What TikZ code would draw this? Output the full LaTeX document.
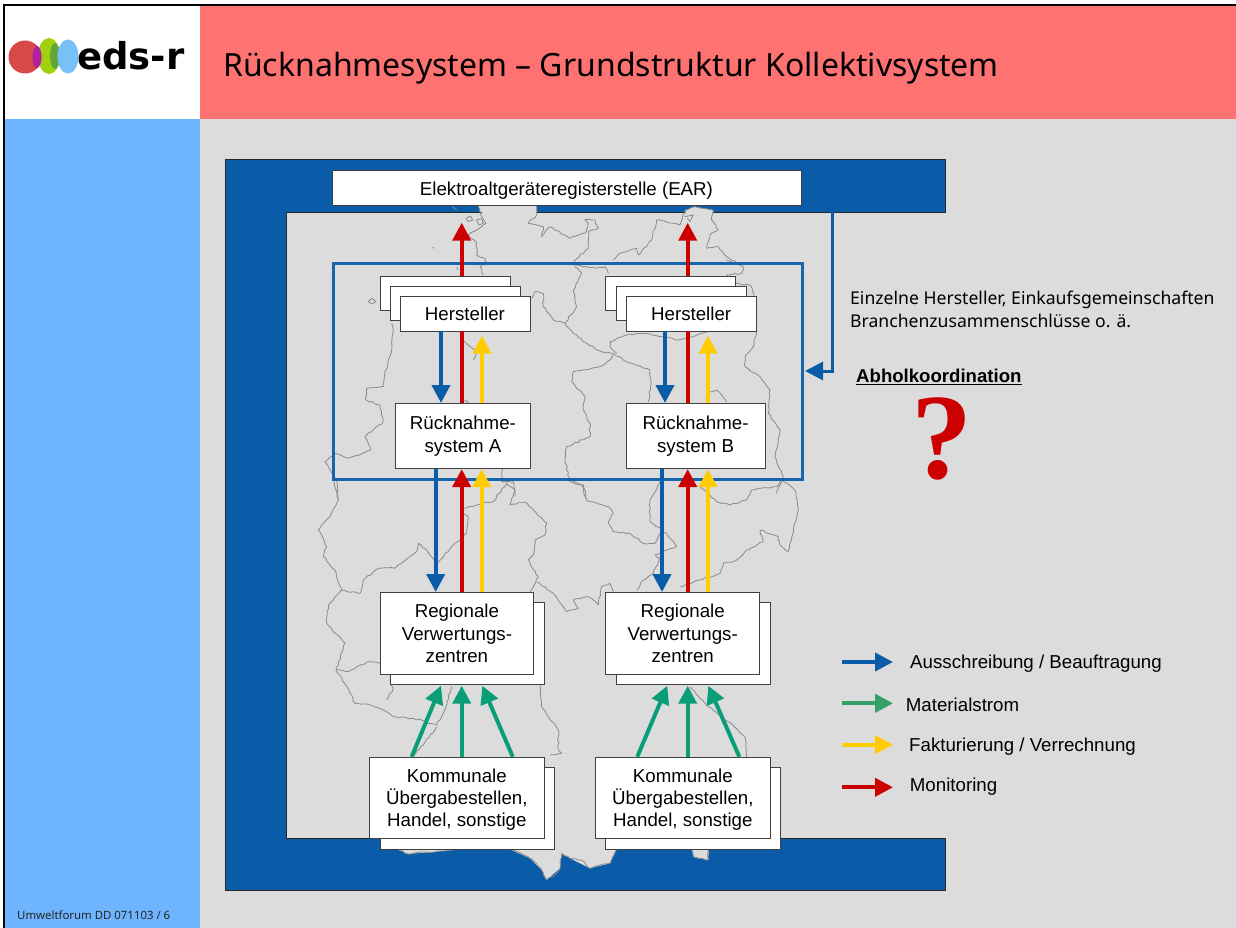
\documentclass[tikz,border=0pt]{standalone}
\usepackage{fontspec}
\setmainfont{Liberation Sans}
\newfontfamily\tahomaish{Noto Sans}
\newfontfamily\logofont{DejaVu Sans}
\newfontfamily\qfont{Liberation Serif}
\usetikzlibrary{arrows.meta,decorations.pathmorphing}
\definecolor{edsblue}{HTML}{0A5CA8}
\definecolor{pagegray}{HTML}{DCDCDC}
\definecolor{titlered}{HTML}{FF7272}
\definecolor{sideblue}{HTML}{6FB4FF}
\definecolor{arrred}{HTML}{CC0000}
\definecolor{arryellow}{HTML}{FFCC00}
\definecolor{arrgreen}{HTML}{0A9E78}
\definecolor{leggreen}{HTML}{35A068}
\definecolor{maplinec}{HTML}{8A8A8A}
\definecolor{logored}{HTML}{D84848}
\definecolor{logopurple}{HTML}{B020A0}
\definecolor{logolime}{HTML}{A0D010}
\definecolor{logogreen}{HTML}{5FA838}
\definecolor{logoblue}{HTML}{78C0F8}
\tikzset{
  boxnode/.style={draw=black!75,fill=white,line width=0.9pt,inner sep=0pt,align=center,anchor=north west,
    font=\fontsize{18.7}{22.3}\selectfont},
  flow/.style={line width=4pt,-{Triangle[length=18pt,width=18pt]}},
  plainflow/.style={line width=4pt},
  legflow/.style={line width=4pt,-{Triangle[length=18pt,width=18pt]}},
  legtext/.style={anchor=west,inner sep=0pt,font=\fontsize{18.7}{22}\selectfont},
  mapdot/.style={draw=maplinec,line width=0.8pt,line join=round},
  mapline/.style={mapdot,decorate,decoration={random steps,segment length=3.2pt,amplitude=0.8pt}},
  zt/.style={shift={(280,160)},x=0.3333pt,y=-0.3333pt},
  zb/.style={shift={(280,480)},x=0.3333pt,y=-0.3333pt},
}
\begin{document}
\begin{tikzpicture}[x=1pt,y=-1pt]
\useasboundingbox (0,0) rectangle (1236,928);
% page areas
\fill[white] (0,0) rectangle (1236,928);
\fill[pagegray] (200,119) rectangle (1236,928);
\fill[titlered] (200,5) rectangle (1236,119);
\fill[sideblue] (4,119) rectangle (200,928);
\draw[black,line width=2.2pt] (4,928) -- (4,5) -- (1236,5);
% blue frame
\path[fill=edsblue,draw=black!85,line width=1pt] (945,838) -- (286,838) -- (286,212) -- (945,212) -- (945,160) -- (225,160) -- (225,890) -- (945,890) -- cycle;
% map: parts overlapping the blue frame
\begin{scope}[zt]
\fill[pagegray] (595,137) -- (600,155) -- (618,162) -- (770,162) -- (770,137) -- cycle;
\fill[pagegray] (1215,164) -- (1218,150) -- (1245,140) -- (1300,150) -- (1298,164) -- cycle;
\end{scope}
\begin{scope}[zb]
\fill[pagegray] (345,1068) -- (350,1108) -- (385,1122) -- (470,1115) -- (530,1108) -- (690,1108) -- (750,1135) -- (785,1170) -- (800,1200) -- (840,1165) -- (845,1120) -- (870,1135) -- (930,1165) -- (990,1150) -- (1010,1108) -- (1235,1108) -- (1240,1130) -- (1285,1140) -- (1288,1068) -- cycle;
\draw[mapline] (350,1108) -- (385,1122) -- (410,1118) -- (470,1115) -- (530,1108);
\draw[mapline] (690,1108) -- (720,1118) -- (750,1135) -- (770,1150) -- (785,1170) -- (800,1200) -- (825,1185) -- (840,1165) -- (845,1120) -- (870,1135) -- (905,1140) -- (930,1165) -- (960,1155) -- (990,1150) -- (1010,1108);
\draw[mapline] (1235,1108) -- (1240,1130) -- (1285,1140) -- (1285,1108);
\draw[mapline] (168,570) -- (205,575) -- (235,558) -- (270,545) -- (300,550);
\draw[mapline] (320,660) -- (340,625) -- (330,600);
\draw[mapline] (160,0) -- (175,60) -- (150,110) -- (115,150) -- (140,200) -- (130,230) -- (165,270) -- (185,330) -- (145,375) -- (140,430) -- (195,490) -- (168,570) -- (200,620) -- (225,670) -- (270,675) -- (310,690) -- (340,710) -- (400,715) -- (470,735) -- (490,700) -- (515,620);
\draw[mapline] (400,828) -- (430,795) -- (470,740);
\draw[mapline] (185,330) -- (240,340) -- (250,300) -- (295,265) -- (345,265) -- (410,215) -- (415,190) -- (435,205) -- (470,250) -- (525,190) -- (560,160) -- (565,110) -- (545,100) -- (550,85) -- (610,70) -- (640,65) -- (680,10) -- (705,30) -- (690,75) -- (735,65) -- (800,130) -- (795,165) -- (765,180) -- (760,225) -- (745,240) -- (775,290) -- (750,335);
\draw[mapline] (770,305) -- (820,340) -- (860,395) -- (895,385) -- (880,360) -- (925,350) -- (955,375) -- (965,320) -- (990,310) -- (1000,335);
\draw[mapline] (1070,330) -- (1090,300) -- (1120,280) -- (1140,235) -- (1125,225) -- (1160,210) -- (1190,200) -- (1160,160) -- (1110,125) -- (1110,60) -- (1145,0);
\draw[mapline] (780,615) -- (785,680) -- (835,750) -- (835,810) -- (845,820) -- (810,825);
\draw[mapline] (1230,620) -- (1285,680) -- (1345,725) -- (1395,770) -- (1400,830);
\draw[mapline] (1260,20) -- (1310,65) -- (1350,75) -- (1400,60) -- (1415,30) -- (1490,20) -- (1505,0) -- (1545,30) -- (1555,90) -- (1525,215) -- (1500,195) -- (1495,170) -- (1440,150) -- (1450,185) -- (1400,210) -- (1370,240) -- (1330,250) -- (1320,280) -- (1260,300) -- (1200,320);
\draw[mapline] (870,0) -- (910,15) -- (920,60) -- (985,80) -- (1000,100) -- (985,125) -- (1000,155) -- (1050,160) -- (1090,190) -- (1125,190) -- (1145,155);
\end{scope}
\begin{scope}[zt]
\draw[mapline] (595,140) -- (600,155) -- (618,190) -- (605,200) -- (580,215) -- (565,225) -- (590,250) -- (590,285) -- (615,295) -- (620,310) -- (600,320) -- (610,345);
\draw[mapline] (770,140) -- (770,165) -- (745,190) -- (790,200) -- (785,230) -- (810,200) -- (870,235) -- (915,220) -- (925,190) -- (915,178) -- (945,180) -- (955,205) -- (925,215) -- (925,265) -- (885,300) -- (880,315) -- (950,325) -- (975,320) -- (985,340);
\draw[mapline] (335,490) -- (340,510) -- (335,570) -- (315,640) -- (310,680) -- (260,685) -- (258,720) -- (300,735) -- (310,785) -- (255,830) -- (272,870) -- (205,895) -- (165,880) -- (135,905) -- (170,960) -- (175,1020);
\draw[mapline] (885,320) -- (905,340) -- (880,390) -- (890,440) -- (855,490);
\draw[mapline] (755,415) -- (765,395) -- (790,400) -- (790,440) -- (820,480) -- (855,490) -- (880,520) -- (920,550) -- (965,575) -- (1000,580) -- (1030,600) -- (1110,630) -- (1112,680) -- (1105,725);
\draw[mapline] (1000,580) -- (990,600) -- (960,620) -- (880,635) -- (875,665) -- (915,710) -- (910,750) -- (930,790) -- (930,830) -- (860,860) -- (855,900) -- (870,965) -- (905,975) -- (920,1020);
\draw[mapline] (1000,300) -- (1020,280) -- (1070,265) -- (1075,285) -- (1115,240) -- (1130,180) -- (1200,195) -- (1215,150) -- (1245,140) -- (1300,150) -- (1295,180) -- (1315,210) -- (1290,225) -- (1280,265) -- (1315,260) -- (1340,290) -- (1390,320) -- (1385,340) -- (1340,345) -- (1370,370) -- (1410,375) -- (1430,420);
\draw[mapline] (1010,580) -- (990,560) -- (990,545) -- (1040,525) -- (1100,520) -- (1190,540) -- (1240,530) -- (1285,515);
\draw[mapline] (1430,515) -- (1420,560) -- (1395,590) -- (1395,620) -- (1440,650) -- (1470,690) -- (1465,760) -- (1500,810) -- (1485,890) -- (1510,950) -- (1490,1000);
\draw[mapline] (540,530) -- (570,560) -- (590,575) -- (580,600);
\draw[mapline] (1280,730) -- (1280,700) -- (1310,690) -- (1340,725);
\draw[mapdot] (545,725) -- (560,722) -- (565,730);
\draw[mapline] (668,925) -- (665,965) -- (700,965) -- (705,1010);
\draw[mapdot] (265,425) -- (275,415) -- (288,425) -- (275,432) -- cycle;
\draw[mapdot] (558,175) -- (572,168) -- (578,180) -- (565,185) -- cycle;
\draw[mapdot] (590,180) -- (605,176) -- (610,190) -- (597,195) -- cycle;
\draw[mapdot] (518,140) -- (530,150);
\draw[mapdot] (458,262) -- (463,265);
\draw[mapdot] (530,322) -- (534,330);
\draw[mapdot] (1215,170) -- (1240,165) -- (1230,185) -- (1222,175);
\draw[mapdot] (1340,300) -- (1365,310);
\end{scope}
% EAR box and collecting rectangle
\node[boxnode,minimum width=469pt,minimum height=34pt] (ear) at (331.5,170.5) {\rule{0pt}{19pt}Elektroaltgeräteregisterstelle (EAR)};
\node[draw=edsblue!95!white,line width=3pt,inner sep=0pt,anchor=north west,minimum width=469.2pt,minimum height=216pt] (sysframe) at (331.5,261.8) {};
% upper arrows behind boxes
\coordinate (earA) at (461.7,222.7);
\coordinate (earB) at (687.7,222.7);
\coordinate (frameTap) at (832,212);
\coordinate (frameBend) at (832,371);
\coordinate (frameTip) at (805,371);
\draw[edsblue,line width=3pt,-{Triangle[length=18pt,width=18pt]}] (frameTap) -- (frameBend) -- (frameTip);
% Hersteller stacks
\node[boxnode,minimum width=130pt,minimum height=34pt] (hA1) at (379.5,275.5) {};
\node[boxnode,minimum width=130pt,minimum height=34pt] (hA2) at (389.5,285.5) {};
\node[boxnode,minimum width=130pt,minimum height=35pt] (hA3) at (399.5,295.5) {Hersteller};
\node[boxnode,minimum width=130pt,minimum height=34pt] (hB1) at (605.3,275.5) {};
\node[boxnode,minimum width=130pt,minimum height=34pt] (hB2) at (615.5,285.5) {};
\node[boxnode,minimum width=130pt,minimum height=35pt] (hB3) at (625.7,295.5) {Hersteller};
% Ruecknahme
\node[boxnode,minimum width=135pt,minimum height=65.2pt] (rA) at (395,403) {Rücknahme-\\system A};
\node[boxnode,minimum width=138.8pt,minimum height=65.2pt] (rB) at (625.7,403) {Rücknahme-\\system B};
% Regionale
\node[boxnode,minimum width=153.5pt,minimum height=81.5pt] (vAb) at (390,602.3) {};
\node[boxnode,minimum width=153.5pt,minimum height=81.8pt] (vA) at (379.7,592) {Regionale\\Verwertungs-\\zentren};
\node[boxnode,minimum width=153.8pt,minimum height=81.5pt] (vBb) at (615.7,602.3) {};
\node[boxnode,minimum width=153.9pt,minimum height=81.8pt] (vB) at (605.3,592) {Regionale\\Verwertungs-\\zentren};
% Kommunale
\node[boxnode,minimum width=174.1pt,minimum height=81.8pt] (kAb) at (379.7,766.7) {};
\node[boxnode,minimum width=174.2pt,minimum height=81.5pt] (kA) at (369.3,756.7) {\rule{0pt}{17pt}Kommunale\\Übergabestellen,\\Handel, sonstige};
\node[boxnode,minimum width=174.5pt,minimum height=81.8pt] (kBb) at (605.3,766.7) {};
\node[boxnode,minimum width=174.2pt,minimum height=81.5pt] (kB) at (595.3,756.7) {\rule{0pt}{17pt}Kommunale\\Übergabestellen,\\Handel, sonstige};
% arrows A
\draw[flow,arrred] (hA1.north -| earA) -- (earA);
\draw[flow,edsblue] (hA3.south -| 441,0) -- (rA.north -| 441,0);
\draw[plainflow,arrred] (rA.north -| earA) -- (hA3.south -| earA);
\draw[flow,arryellow] (rA.north -| 482,0) -- (482,335.7);
\draw[flow,edsblue] (rA.south -| 435.7,0) -- (vA.north -| 435.7,0);
\draw[flow,arrred] (vA.north -| earA) -- (rA.south -| earA);
\draw[flow,arryellow] (vA.north -| 481.7,0) -- (rA.south -| 481.7,0);
% arrows B
\draw[flow,arrred] (hB1.north -| earB) -- (earB);
\draw[flow,edsblue] (hB3.south -| 665,0) -- (rB.north -| 665,0);
\draw[plainflow,arrred] (rB.north -| earB) -- (hB3.south -| earB);
\draw[flow,arryellow] (rB.north -| 708,0) -- (708,335.7);
\draw[flow,edsblue] (rB.south -| 662,0) -- (vB.north -| 662,0);
\draw[flow,arrred] (vB.north -| earB) -- (rB.south -| earB);
\draw[flow,arryellow] (vB.north -| 708,0) -- (rB.south -| 708,0);
% green
\draw[flow,arrgreen] (411.7,756.7) -- (441,685.7);
\draw[flow,arrgreen] (kA.north -| earA) -- (461.7,685.7);
\draw[flow,arrgreen] (512.7,756.7) -- (482.3,685.7);
\draw[flow,arrgreen] (637.3,756.7) -- (667.3,685.7);
\draw[flow,arrgreen] (kB.north -| earB) -- (687.7,685.7);
\draw[flow,arrgreen] (739.3,756.7) -- (708.3,685.7);
% right text
\node[anchor=north west,inner sep=0pt,align=left,font=\tahomaish\fontsize{17.6}{23.3}\selectfont] (note) at (850,291) {Einzelne Hersteller, Einkaufsgemeinschaften\\Branchenzusammenschlüsse o. ä.};
\node[anchor=west,inner sep=0pt,font=\bfseries\fontsize{18.6}{22}\selectfont] (abhol) at (856,376.5) {\underline{Abholkoordination}};
\node[inner sep=0pt,text=arrred,font=\qfont\bfseries\fontsize{122}{122}\selectfont] (qm) at (942,439) {?};
% legend
\coordinate (l1a) at (842,662); \coordinate (l1b) at (893,662);
\coordinate (l2a) at (842,703.3); \coordinate (l2b) at (893,703.3);
\coordinate (l3a) at (842,744.7); \coordinate (l3b) at (893,744.7);
\coordinate (l4a) at (842,787.3); \coordinate (l4b) at (893,787.3);
\draw[legflow,edsblue] (l1a) -- (l1b);
\draw[legflow,leggreen] (l2a) -- (l2b);
\draw[legflow,arryellow] (l3a) -- (l3b);
\draw[legflow,arrred] (l4a) -- (l4b);
\node[legtext] (t1) at (910,663.5) {Ausschreibung / Beauftragung};
\node[legtext] (t2) at (905.7,704.5) {Materialstrom};
\node[legtext] (t3) at (909,746.5) {Fakturierung / Verrechnung};
\node[legtext] (t4) at (909.7,787) {Monitoring};
% title & footer
\node[anchor=west,inner sep=0pt,font=\tahomaish\fontsize{32}{38}\selectfont] (title) at (223,68) {Rücknahmesystem – Grundstruktur Kollektivsystem};
\node[anchor=west,inner sep=0pt,font=\tahomaish\fontsize{11.4}{13}\selectfont,text=black!85] (foot) at (17,915) {Umweltforum DD 071103 / 6};
% logo
\fill[logolime] (49,56) ellipse (11 and 18);
\fill[logogreen] (55,56) ellipse (5 and 13);
\fill[logoblue] (68,56.5) ellipse (10.5 and 17);
\fill[logored] (25,57) circle (16.5);
\fill[logopurple] (37,57) ellipse (4.5 and 11);
\node[anchor=base west,inner sep=0pt,font=\logofont\bfseries\fontsize{37}{37}\selectfont] (logo) at (77,70) {eds-r};
\end{tikzpicture}
\end{document}
